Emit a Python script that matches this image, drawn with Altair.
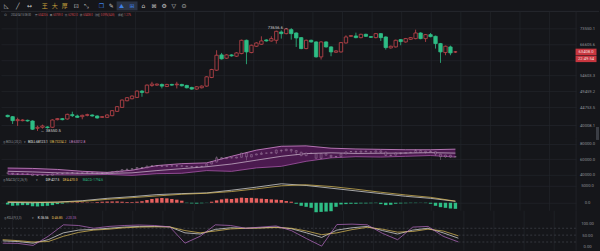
import altair as alt
import pandas as pd

BG = "#15161a"
GRID = "#23262b"
UP = "#c4464c"
DOWN = "#2ebd85"
HIST_UP = "#e8615f"
TXT = "#8d9097"
WHITE = "#e6e6e6"
YELLOW = "#e4c25a"
PURPLE = "#b86cc6"
PINK = "#d48ad0"

# ---------------- data ----------------
opens = [42523, 42166, 41123, 41123, 41208, 41038, 39192, 39438, 39520, 39438,
         41383, 41644, 41557, 42701, 42345, 42166, 42523, 42612, 42345, 41992,
         41992, 42434, 43604, 44711, 46621, 47210, 47606, 49538, 49023, 51328,
         51436, 51652, 51004, 51652, 51544, 51652, 51328, 50691, 50164, 50586,
         51112, 53973, 56512, 62223, 60936, 62223, 61704, 62743, 68218, 63142,
         65699, 66530, 68362, 67936, 68218, 71885, 71132, 72943, 71432, 69371,
         64746, 68218, 67512, 61444, 67512, 65423, 63275, 63404, 67088, 69953,
         70101, 69371, 70838, 69806, 69371, 71132, 69659, 65018, 65423, 68506,
         67512, 68650, 68939, 71432, 68939, 70689, 69953, 66806, 63142, 65423,
         63390]
highs = [42701, 42345, 41905, 41470, 41383, 41208, 39851, 40103, 39683, 41470,
         41818, 41818, 42968, 43513, 42701, 42701, 42968, 42790, 42523, 42345,
         42790, 43968, 45086, 47012, 47705, 48209, 49744, 49847, 51652, 52526,
         51976, 51976, 51868, 51868, 52526, 51868, 51544, 50901, 51112, 51328,
         54427, 56992, 64069, 63009, 62483, 62483, 63275, 68506, 68506, 66392,
         67370, 69953, 68650, 69953, 72485, 72635, 73555, 73656.6, 71733, 69659,
         68506, 68506, 67794, 67794, 67794, 65699, 64069, 67512, 70395, 70542,
         71583, 71132, 71132, 70101, 71432, 71432, 69953, 65975, 68506, 68794,
         69227, 69659, 72943, 71733, 70985, 71432, 70248, 67088, 65975, 65975,
         63759]
lows = [41992, 40271, 39767, 40953, 40868, 38782, 38550.5, 39110, 39110, 39274,
        41208, 41208, 41383, 42079, 41818, 41470, 42256, 42166, 41644, 41818,
        41818, 42256, 43422, 44525, 46427, 47012, 47408, 47804, 48815, 50901,
        51220, 50375, 50796, 51220, 50375, 51004, 50375, 49954, 49954, 50375,
        50901, 53748, 56278, 60426, 60682, 61574, 61444, 62483, 58682, 62876,
        65423, 66254, 67654, 67654, 66806, 68939, 70838, 68506, 65423, 64475,
        64475, 67229, 61190, 60426, 65153, 61704, 63009, 63142, 66806, 69659,
        69083, 69083, 69659, 69227, 69083, 67936, 64340, 64746, 65153, 66116,
        67229, 68362, 68650, 68650, 67512, 69515, 64746, 59175, 62093, 62093,
        62952]
closes = [42166, 41123, 41383, 41293, 41038, 38946, 39438, 39767, 39356, 41293,
          41644, 41383, 42790, 42434, 41992, 42523, 42701, 42345, 41818, 42166,
          42612, 43786, 44897, 46815, 47507, 48007, 49538, 49126, 51436, 51760,
          51760, 51112, 51652, 51436, 51760, 51220, 50586, 50164, 50901, 51112,
          54197, 56752, 62093, 60682, 62223, 61834, 63009, 68218, 63404, 66116,
          67088, 67936, 67936, 68939, 72185, 71132, 73251, 71132, 69227, 64746,
          68218, 67512, 61444, 67512, 65423, 63404, 63803, 67229, 69659, 70248,
          69371, 70838, 69953, 69515, 71132, 69371, 65153, 65699, 68218, 67654,
          68939, 69371, 71432, 68939, 70689, 69806, 66806, 63404, 65699, 63009,
          63408.0]
macd_hist = [-500, -900, -800, -700,
             -700, -1000, -1100, -1000, -900, -700,
             -400, -250, -100, 100, 150, 120, 100, 80,
             200, 300, 350, 380, 400,
             300, 250, 200, 300, 450,
             800, 1100, 1300, 1400, 1300, 1100, 900, 600,
             -100, -200, -250, -150, -50,
             300, 700, 1000, 1200, 1100,
             1300, 1500, 1400, 1450, 1300,
             1200, 1100, 1000, 900, 800,
             500, 300, -300,
             -900, -1200, -1500, -2800, -2700, -2600, -2500,
             -1200, -500, -400, -300, -300, -200, -200, -150, -100,
             -400, -700, -600, -300,
             -200, -150, -100, -100, -50, -100, -300,
             -900, -1300, -1500, -1700, -1794.6]

line_idx = [0, 5, 10, 15, 20, 25, 30, 35, 40, 45, 50, 55, 60, 65, 70, 75, 80, 85, 90]
boll_ub = [48800, 48300, 47000, 44600, 43200, 46000, 52000, 54500, 55500, 64000,
           72000, 77000, 77500, 74500, 73500, 73000, 72500, 72500, 73234.2]
boll_mb = [44600, 43800, 42600, 42000, 41900, 42600, 45500, 48000, 50500, 54000,
           59000, 64000, 67500, 68500, 67700, 68000, 68200, 68700, 68123.1]
boll_lb = [40900, 40300, 40000, 39800, 40500, 39300, 41500, 42000, 45500, 44500,
           49000, 51000, 57500, 62000, 63500, 63000, 64000, 65000, 63012.8]
dif_vals = [100, 0, 200, 600, 1300, 1800, 2400, 2700, 2900, 3700,
            4600, 5600, 5100, 4300, 3500, 2700, 1900, 1300, 427.5]
dea_vals = [300, 200, 150, 400, 1000, 1500, 2000, 2500, 2800, 3300,
            4100, 5000, 5300, 4800, 4000, 3100, 2300, 1600, 470.0]

kdj_idx = list(range(0, 91, 3))
k_vals = [25, 22, 15, 30, 60, 72, 75, 80, 85, 88, 88, 86, 60, 55, 75, 82, 80, 82, 85, 78,
          60, 40, 72, 82, 88, 70, 55, 72, 80, 60, 36.56]
d_vals = [30, 26, 20, 22, 45, 62, 72, 76, 82, 85, 86, 86, 70, 60, 68, 77, 80, 81, 83, 80,
          68, 52, 60, 74, 84, 76, 63, 66, 76, 68, 46.85]
j_vals = [15, 14, 5, 45, 95, 92, 80, 88, 92, 94, 92, 86, 15, 45, 95, 92, 80, 85, 90, 70,
          35, 2, 96, 98, 95, 58, 30, 85, 88, 45, 20.35]

main_ticks = [40008.1, 44753.5, 49459.2, 54603.3, 60210.0, 66605.6, 73550.1]
boll_ticks = [40000, 60000, 80000]
macd_ticks = [0, 5000]
kdj_ticks = [0, 50, 100]
kdj_dash = [20, 50, 80]
time_grid = [1.91, 7.86, 13.80, 19.75, 25.69, 31.64, 37.58, 43.53, 49.47, 55.42,
             61.36, 67.31, 73.25, 79.20, 85.14, 91.09, 97.03, 102.98, 108.92]

# ---------------- frames ----------------
n = len(opens)
candles = pd.DataFrame({"i": list(range(n)), "o": opens, "h": highs, "l": lows,
                        "c": closes, "m": macd_hist})
candles["up"] = candles["c"] >= candles["o"]
candles["top"] = candles[["o", "c"]].max(axis=1)
candles["bot"] = candles[["o", "c"]].min(axis=1)
boll = pd.DataFrame({"i": line_idx, "ub": boll_ub, "mb": boll_mb, "lb": boll_lb})
macd_lines = pd.DataFrame({"i": line_idx, "dif": dif_vals, "dea": dea_vals})
kdj = pd.DataFrame({"i": kdj_idx, "k": k_vals, "d": d_vals, "j": j_vals})
grid_df = pd.DataFrame({"g": time_grid})
dash_df = pd.DataFrame({"v": kdj_dash})
one = pd.DataFrame({"a": [0]})
hi_i = highs.index(max(highs))
lo_i = lows.index(min(lows))
ann_hi = pd.DataFrame({"i": [hi_i], "p": [max(highs)], "t": [f"{max(highs):.1f} →"]})
ann_lo = pd.DataFrame({"i": [lo_i], "p": [min(lows)], "t": [f"← {min(lows):.1f}"]})
last = pd.DataFrame({"p": [closes[-1]], "t": [f"{closes[-1]:.1f}"], "cd": ["22:49:54"]})

W = 577
XS = alt.Scale(domain=[-0.335, 113.25], nice=False, zero=False)


def X(field):
    return alt.X(f"{field}:Q", scale=XS, axis=None)


def yaxis(values, fmt, grid=True, hide_near=None):
    extra = {}
    if hide_near is not None:
        extra["labelExpr"] = (f"abs(datum.value - {hide_near}) < 1 ? '' : datum.label")
    return alt.Axis(orient="right", values=values, format=fmt, grid=grid, gridColor=GRID,
                    gridWidth=0.7, domain=False, ticks=False, labelAlign="center",
                    labelBaseline="middle", labelPadding=11, labelFontSize=4.2,
                    labelColor=TXT, labelFont="Roboto", labelOverlap=False,
                    labelFlush=False, title=None, minExtent=22, maxExtent=22, **extra)


def txt(s, x, y, color, size=3.2, font="Roboto", align="left"):
    return alt.Chart(one).mark_text(text=s, align=align, baseline="middle", fontSize=size,
                                    font=font, color=color).encode(
        x=alt.value(x), y=alt.value(y))


def vgrid():
    return alt.Chart(grid_df).mark_rule(color=GRID, strokeWidth=0.7).encode(x=X("g"))


def rborder():
    return alt.Chart(one).mark_rule(color=GRID, strokeWidth=0.8).encode(x=alt.value(W))


# ---------------- toolbar ----------------
tool_layers = [
    txt("◺", 3, 5.5, "#c9c9c9", 6, "DejaVu Sans"),
    txt("╱", 15, 5.5, "#c9c9c9", 6, "DejaVu Sans"),
    txt("↔", 26, 5.5, "#c9c9c9", 6, "DejaVu Sans"),
    txt("王", 41, 5.5, "#c9a33c", 6, "Noto Sans CJK SC"),
    txt("大", 51, 5.5, "#c9a33c", 6, "Noto Sans CJK SC"),
    txt("厚", 61, 5.5, "#c9a33c", 6, "Noto Sans CJK SC"),
    txt("⊡", 73, 5.5, "#c9c9c9", 6, "DejaVu Sans"),
    txt("⤡", 83, 5.5, "#c9c9c9", 6, "DejaVu Sans"),
    txt("❐", 98, 5.5, "#3d7fe6", 6, "DejaVu Sans"),
    txt("✎", 108, 5.5, "#c9c9c9", 6, "DejaVu Sans"),
    alt.Chart(one).mark_rect(color="#2a3345").encode(
        x=alt.value(116), x2=alt.value(137), y=alt.value(1), y2=alt.value(10)),
    txt("⛰", 118, 5.5, "#3d7fe6", 6, "DejaVu Sans"),
    txt("⊞", 129, 5.5, "#3d7fe6", 6, "DejaVu Sans"),
    txt("⌂", 141, 5.5, "#c9c9c9", 6, "DejaVu Sans"),
    txt("⊠", 151, 5.5, "#c9c9c9", 6, "DejaVu Sans"),
    txt("⚙", 161, 5.5, "#c9c9c9", 6, "DejaVu Sans"),
    txt("▽", 171, 5.5, "#c9c9c9", 6, "DejaVu Sans"),
    txt("⊙", 181, 5.5, "#c9c9c9", 6, "DejaVu Sans"),
    alt.Chart(one).mark_rule(color="#2a2d33", strokeWidth=0.8).encode(
        x=alt.value(0), x2=alt.value(600), y=alt.value(11)),
]
toolbar = alt.layer(*tool_layers).properties(width=W, height=11)

# ---------------- main candles ----------------
ymain = alt.Scale(type="log", domain=[36643, 81841], nice=False, zero=False)
AXM = yaxis(main_ticks, ".1f", hide_near=60210.0)
wicks = alt.Chart(candles).mark_rule(strokeWidth=0.8).encode(
    x=X("i"), y=alt.Y("l:Q", scale=ymain, axis=AXM), y2="h:Q",
    color=alt.condition("datum.up", alt.value(UP), alt.value(DOWN)))
bodies = alt.Chart(candles).mark_bar(size=3.4, strokeWidth=0.8).encode(
    x=X("i"), y=alt.Y("bot:Q", scale=ymain, axis=AXM), y2="top:Q",
    fill=alt.condition("datum.up", alt.value(BG), alt.value(DOWN)),
    stroke=alt.condition("datum.up", alt.value(UP), alt.value(DOWN)))
hi_txt = alt.Chart(ann_hi).mark_text(align="right", dx=-3, fontSize=4.2, color="#cfcfcf",
                                     font="Roboto").encode(
    x=X("i"), y=alt.Y("p:Q", scale=ymain, axis=AXM), text="t:N")
lo_txt = alt.Chart(ann_lo).mark_text(align="left", dx=3, fontSize=4.2, color="#cfcfcf",
                                     font="Roboto").encode(
    x=X("i"), y=alt.Y("p:Q", scale=ymain, axis=AXM), text="t:N")
box1 = alt.Chart(last).mark_tick(orient="horizontal", size=21, thickness=6.5,
                                 color="#c8363f", opacity=1).encode(
    x=alt.value(587), y=alt.Y("p:Q", scale=ymain, axis=AXM))
box2 = alt.Chart(last).mark_tick(orient="horizontal", size=21, thickness=6.5,
                                 color="#c8363f", opacity=1, yOffset=7).encode(
    x=alt.value(587), y=alt.Y("p:Q", scale=ymain, axis=AXM))
box1t = alt.Chart(last).mark_text(fontSize=4.2, color="#f3dede", font="Roboto").encode(
    x=alt.value(587), y=alt.Y("p:Q", scale=ymain, axis=AXM), text="t:N")
box2t = alt.Chart(last).mark_text(fontSize=4.2, color="#f3dede", font="Roboto", dy=7).encode(
    x=alt.value(587), y=alt.Y("p:Q", scale=ymain, axis=AXM), text="cd:N")
scroll = alt.Chart(one).mark_rect(color="#3a3d44").encode(
    x=alt.value(597), x2=alt.value(600), y=alt.value(116), y2=alt.value(129))

RED = "#d2484f"
CJK = "Noto Sans CJK SC"
FS = 2.6
info = [
    txt("⊙", 3, 4, TXT, 3.6, "DejaVu Sans"),
    txt("2024-04-15 08:00", 10, 4, TXT, FS),
    txt("开", 34, 4, TXT, FS, CJK), txt("63420.6", 37.5, 4, RED, FS),
    txt("高", 49, 4, TXT, FS, CJK), txt("63759.0", 52.5, 4, RED, FS),
    txt("低", 64, 4, TXT, FS, CJK), txt("62952.0", 67.5, 4, RED, FS),
    txt("收", 79, 4, TXT, FS, CJK), txt("63408.0", 82.5, 4, RED, FS),
    txt("涨幅", 94, 4, TXT, FS, CJK), txt("0.09%(54.8)", 100, 4, RED, FS),
    txt("振幅", 117.5, 4, TXT, FS, CJK), txt("1.27%", 123.5, 4, RED, FS),
]
main = alt.layer(vgrid(), wicks, bodies, hi_txt, lo_txt, rborder(), box1, box2, box1t,
                 box2t, scroll, *info).properties(width=W, height=128)

# ---------------- BOLL ----------------
yboll = alt.Scale(domain=[37419, 86452], nice=False, zero=False)
AXB = yaxis(boll_ticks, ".1f")
band = alt.Chart(boll).mark_area(color="#4e1a52", opacity=0.95).encode(
    x=X("i"), y=alt.Y("lb:Q", scale=yboll, axis=AXB), y2="ub:Q")
ub_l = alt.Chart(boll).mark_line(color=PINK, strokeWidth=0.8).encode(
    x=X("i"), y=alt.Y("ub:Q", scale=yboll, axis=AXB))
lb_l = alt.Chart(boll).mark_line(color="#a757a8", strokeWidth=0.8).encode(
    x=X("i"), y=alt.Y("lb:Q", scale=yboll, axis=AXB))
mb_l = alt.Chart(boll).mark_line(color="#eadcea", strokeWidth=0.6).encode(
    x=X("i"), y=alt.Y("mb:Q", scale=yboll, axis=AXB))
mini_w = alt.Chart(candles).mark_rule(color="#d8c4d8", strokeWidth=0.4, opacity=0.7).encode(
    x=X("i"), y=alt.Y("l:Q", scale=yboll, axis=AXB), y2="h:Q")
mini_b = alt.Chart(candles).mark_bar(size=2.0, strokeWidth=0.4, stroke="#d8c4d8",
                                     fill="#4e1a52", opacity=0.7).encode(
    x=X("i"), y=alt.Y("bot:Q", scale=yboll, axis=AXB), y2="top:Q")
boll_lbls = [
    txt("◎BOLL(20,2)", 2, 3.5, TXT),
    txt("▾", 23, 3.5, TXT, 3.2, "DejaVu Sans"),
    txt("BOLL:68123.1", 27, 3.5, WHITE),
    txt("UB:73234.2", 49, 3.5, YELLOW),
    txt("LB:63012.8", 68.5, 3.5, PINK),
]
bollp = alt.layer(vgrid(), band, ub_l, lb_l, mb_l, mini_w, mini_b, rborder(),
                  *boll_lbls).properties(width=W, height=38)

# ---------------- MACD ----------------
ymacd = alt.Scale(domain=[-2353, 7647], nice=False, zero=False)
AXD = yaxis(macd_ticks, ".1f")
hist = alt.Chart(candles).mark_bar(size=3.4).encode(
    x=X("i"), y=alt.Y("m:Q", scale=ymacd, axis=AXD), y2=alt.datum(0),
    color=alt.condition("datum.m >= 0", alt.value(HIST_UP), alt.value(DOWN)))
dif_l = alt.Chart(macd_lines).mark_line(color=WHITE, strokeWidth=0.7).encode(
    x=X("i"), y=alt.Y("dif:Q", scale=ymacd, axis=AXD))
dea_l = alt.Chart(macd_lines).mark_line(color=YELLOW, strokeWidth=0.7).encode(
    x=X("i"), y=alt.Y("dea:Q", scale=ymacd, axis=AXD))
macd_lbls = [
    txt("◎MACD(12,26,9)", 2, 3.5, TXT),
    txt("▾", 35, 3.5, TXT, 3.2, "DejaVu Sans"),
    txt("DIF:427.5", 45, 3.5, WHITE),
    txt("DEA:470.0", 62, 3.5, YELLOW),
    txt("MACD:-1794.6", 82, 3.5, DOWN),
]
macdp = alt.layer(vgrid(), hist, dif_l, dea_l, rborder(), *macd_lbls).properties(
    width=W, height=34)

# ---------------- KDJ ----------------
ykdj = alt.Scale(domain=[-17.4, 156.5], nice=False, zero=False)
AXK = yaxis(kdj_ticks, ".2f", grid=False)
dash = alt.Chart(dash_df).mark_rule(color="#4a4d55", strokeWidth=0.6, strokeDash=[2, 2]).encode(
    y=alt.Y("v:Q", scale=ykdj, axis=AXK))
k_l = alt.Chart(kdj).mark_line(color=WHITE, strokeWidth=0.7).encode(
    x=X("i"), y=alt.Y("k:Q", scale=ykdj, axis=AXK))
d_l = alt.Chart(kdj).mark_line(color=YELLOW, strokeWidth=0.7).encode(
    x=X("i"), y=alt.Y("d:Q", scale=ykdj, axis=AXK))
j_l = alt.Chart(kdj).mark_line(color=PURPLE, strokeWidth=0.7).encode(
    x=X("i"), y=alt.Y("j:Q", scale=ykdj, axis=AXK))
kdj_lbls = [
    txt("◎KDJ(9,3,3)", 3, 7, TXT),
    txt("▾", 31, 7, TXT, 3.2, "DejaVu Sans"),
    txt("K:36.56", 37, 7, WHITE),
    txt("D:46.85", 51, 7, YELLOW),
    txt("J:20.35", 65, 7, PURPLE),
]
kdjp = alt.layer(vgrid(), dash, k_l, d_l, j_l, rborder(), *kdj_lbls).properties(
    width=W, height=40)

chart = alt.vconcat(toolbar, main, bollp, macdp, kdjp, spacing=0, bounds="flush").properties(
    padding=0, background=BG).configure_view(strokeWidth=0)

chart.save("out.html", embed_options={"renderer": "svg", "actions": False})
